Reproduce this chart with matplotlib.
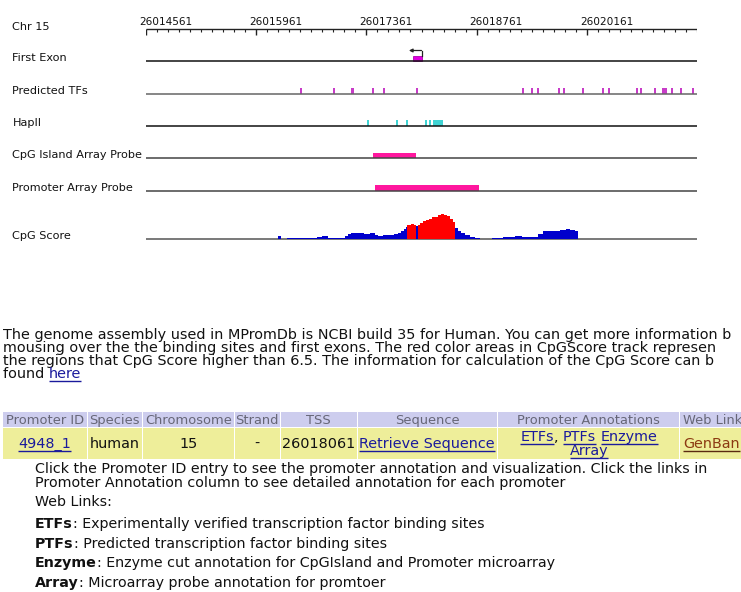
import matplotlib
matplotlib.use("Agg")
import matplotlib.pyplot as plt
from matplotlib.patches import Rectangle
from matplotlib.transforms import offset_copy
import numpy as np

plt.rcParams["font.family"] = ["DejaVu Sans"]

# ---------------- data ----------------
START, END = 26014561, 26021561
MAJOR_TICKS = [26014561, 26015961, 26017361, 26018761, 26020161]
MINOR_STEP = 140

track_labels = ["Chr 15", "First Exon", "Predicted TFs", "HapII",
                "CpG Island Array Probe", "Promoter Array Probe", "CpG Score"]

exon_start, exon_end = 26017950, 26018061
tss = 26018061

tf_start = [26016517, 26016937, 26017165, 26017432, 26017572, 26017991,
            26019338, 26019452, 26019528, 26019795, 26019859, 26020100,
            26020354, 26020430, 26020786, 26020837, 26021015, 26021116,
            26021231, 26021345, 26021497]
tf_end = [26016537, 26016957, 26017203, 26017452, 26017592, 26018011,
          26019358, 26019472, 26019548, 26019815, 26019879, 26020120,
          26020374, 26020450, 26020806, 26020857, 26021035, 26021180,
          26021251, 26021365, 26021517]

hap_pos = [26017369, 26017737, 26017864, 26018105, 26018156, 26018207,
           26018232, 26018258, 26018283, 26018309]

cpg_island_probe = (26017445, 26017991)
promoter_probe = (26017470, 26018791)

cpg_pos = [26016238, 26016276, 26016352, 26016517, 26016644, 26016733, 26016797,
           26016873, 26017000, 26017089, 26017127, 26017165, 26017216, 26017280,
           26017330, 26017407, 26017470, 26017508, 26017572, 26017661, 26017712,
           26017762, 26017801, 26017839, 26017864, 26017877, 26017928, 26017966,
           26017991, 26018016, 26018042, 26018080, 26018118, 26018156, 26018194,
           26018232, 26018271, 26018309, 26018347, 26018385, 26018423, 26018461,
           26018487, 26018525, 26018563, 26018614, 26018678, 26018741, 26018804,
           26018957, 26019096, 26019249, 26019338, 26019401, 26019465, 26019541,
           26019604, 26019693, 26019757, 26019820, 26019897, 26019947, 26020011,
           26020049]
cpg_score = [1.6, 0, 0.5, 0.4, 0.5, 1.0, 1.3, 0.5, 0.7, 1.5, 2.5, 3.0, 2.8, 3.0,
             2.5, 2.8, 2.2, 1.5, 1.8, 2.0, 2.5, 3.2, 4.0, 5.0, 6.0, 7.0, 7.6, 7.2,
             6.3, 7.0, 7.8, 8.8, 9.6, 10.2, 10.8, 11.2, 11.8, 12.5, 12.2, 11.5, 10.0,
             8.5, 5.5, 4.0, 3.0, 2.0, 1.0, 0.5, 0, 0.5, 1.0, 1.3, 1.0, 0.8, 1.0, 2.5,
             3.8, 4.2, 3.8, 4.5, 4.8, 4.3, 3.8, 0]
CPG_THRESHOLD = 6.5

paragraph = [
    "The genome assembly used in MPromDb is NCBI build 35 for Human. You can get more information b",
    "mousing over the the binding sites and first exons. The red color areas in CpGScore track represen",
    "the regions that CpG Score higher than 6.5. The information for calculation of the CpG Score can b",
]
para_last, para_link = "found ", "here"

table_headers = ["Promoter ID", "Species", "Chromosome", "Strand", "TSS",
                 "Sequence", "Promoter Annotations", "Web Link"]
table_row = ["4948_1", "human", "15", "-", "26018061", "Retrieve Sequence",
             "", "GenBan"]
annotation_links = ["ETFs", "PTFs", "Enzyme", "Array"]

notes = ["Click the Promoter ID entry to see the promoter annotation and visualization. Click the links in",
         "Promoter Annotation column to see detailed annotation for each promoter",
         "Web Links:"]
definitions = [("ETFs", ": Experimentally verified transcription factor binding sites"),
               ("PTFs", ": Predicted transcription factor binding sites"),
               ("Enzyme", ": Enzyme cut annotation for CpGIsland and Promoter microarray"),
               ("Array", ": Microarray probe annotation for promtoer")]

# ---------------- layout / style ----------------
W, H = 741, 592
TX0, TX1 = 146, 697          # track x extent in pixels
AXIS_Y = 29
track_y = [AXIS_Y, 61, 94, 126, 158, 191, 239]
LINK = "#1a1a9c"
TXT = "#111111"

fig = plt.figure(figsize=(W / 100, H / 100), dpi=100)
fig.patch.set_facecolor("white")

pg = fig.add_axes([0, 0, 1, 1])
pg.set_xlim(0, W)
pg.set_ylim(H, 0)
pg.axis("off")

tr = fig.add_axes([TX0 / W, 1 - 260 / H, (TX1 - TX0) / W, 260 / H])
tr.set_xlim(START, END)
tr.set_ylim(260, 0)
tr.axis("off")

# coordinate axis
tr.hlines(AXIS_Y, START, END, color="#222222", lw=1.0)
for p in np.arange(START, END + 1, MINOR_STEP):
    is_major = p in MAJOR_TICKS
    tr.vlines(p, AXIS_Y, AXIS_Y + (6 if is_major else 3), color="#222222",
              lw=1.0 if is_major else 0.8)
lab_tr = offset_copy(tr.transData, fig=fig, x=-7, y=0, units="dots")
for p in MAJOR_TICKS:
    tr.text(p, 25, str(p), transform=lab_tr, ha="left", va="baseline",
            fontsize=7.6, color=TXT)

# track labels
for lab, y in zip(track_labels, track_y):
    pg.text(12.5, y + (1 if lab == "Chr 15" else 0), lab, ha="left",
            va="baseline", fontsize=8.1, color=TXT)

# track base lines
line_cols = ["#111111", "#666666", "#111111", "#444444", "#444444", "#555555"]
for y, c in zip(track_y[1:], line_cols):
    tr.hlines(y, START, END, color=c, lw=1.1)

# first exon + TSS arrow
tr.add_patch(Rectangle((exon_start, 55.5), exon_end - exon_start, 5.5,
                       facecolor="#e000e0", edgecolor="#b000b0", lw=0.6))
tr.plot([tss, tss], [55.5, 50.5], color="#222222", lw=0.9)
tr.annotate("", xy=(tss - 160, 50.5), xytext=(tss, 50.5),
            arrowprops=dict(arrowstyle="-|>", color="#222222", lw=0.9,
                            mutation_scale=5, shrinkA=0, shrinkB=0))

# predicted TFs
tr.bar(tf_start, -6, width=np.array(tf_end) - np.array(tf_start), bottom=94,
       align="edge", color="#c83cc8", linewidth=0)
# HapII
tr.bar(hap_pos, -6, width=22, bottom=126, align="edge", color="#3fd3d3",
       linewidth=0)
# probes
tr.add_patch(Rectangle((cpg_island_probe[0], 152.5),
                       cpg_island_probe[1] - cpg_island_probe[0], 5.5,
                       facecolor="#ff179e", edgecolor="none"))
tr.add_patch(Rectangle((promoter_probe[0], 185),
                       promoter_probe[1] - promoter_probe[0], 6,
                       facecolor="#ff179e", edgecolor="none"))

# CpG score
cg = fig.add_axes([TX0 / W, 1 - 239 / H, (TX1 - TX0) / W, 30 / H])
cg.set_xlim(START, END)
cg.set_ylim(0, 15)
cg.axis("off")
pos = np.array(cpg_pos)
sc = np.array(cpg_score)
cols = np.where(sc[:-1] > CPG_THRESHOLD, "#ff0000", "#0000cc")
cg.bar(pos[:-1], sc[:-1], width=np.diff(pos), align="edge", color=cols,
       linewidth=0, antialiased=False)

# ---------------- page text ----------------
fig.canvas.draw()
renderer = fig.canvas.get_renderer()


def width_of(t):
    bb = t.get_window_extent(renderer)
    return bb.x1 - bb.x0


def underline(t, y, color):
    bb = t.get_window_extent(renderer)
    pg.hlines(y, bb.x0, bb.x1, color=color, lw=1.0)


PFS = 10.4
ys = [339, 352, 365]
for line, y in zip(paragraph, ys):
    pg.text(3, y, line, ha="left", va="baseline", fontsize=PFS, color=TXT)
t = pg.text(3, 378, para_last, ha="left", va="baseline", fontsize=PFS, color=TXT)
x = 3 + width_of(t)
t = pg.text(x, 378, para_link, ha="left", va="baseline", fontsize=PFS, color=LINK)
underline(t, 380.5, LINK)

# table
col_edges = [3, 88, 143, 235, 281, 358, 498, 680, 760]
HDR_Y0, HDR_Y1, ROW_Y1 = 412, 427, 459
HFS = 9.4
for i in range(len(table_headers)):
    x0, x1 = col_edges[i], col_edges[i + 1]
    pg.add_patch(Rectangle((x0, HDR_Y0), x1 - x0 - 1.5, HDR_Y1 - HDR_Y0,
                           facecolor="#cdcdee", edgecolor="none"))
    pg.add_patch(Rectangle((x0, HDR_Y1 + 1), x1 - x0 - 1.5, ROW_Y1 - HDR_Y1 - 1,
                           facecolor="#eeee9a", edgecolor="none"))
    cx = (x0 + x1) / 2
    if i == len(table_headers) - 1:
        pg.text(x0 + 3, 424, table_headers[i], ha="left", va="baseline",
                fontsize=HFS, color="#666677")
    else:
        pg.text(cx - 0.75, 424, table_headers[i], ha="center", va="baseline",
                fontsize=HFS, color="#666677")

TFS = 10.4
row_y = 448
for i, val in enumerate(table_row):
    x0, x1 = col_edges[i], col_edges[i + 1]
    cx = (x0 + x1) / 2
    if i == 6:
        continue
    if i == len(table_row) - 1:
        t = pg.text(x0 + 3, row_y, val, ha="left", va="baseline", fontsize=TFS,
                    color="#8b3a12")
        underline(t, row_y + 2.5, "#5a2a10")
        continue
    is_link = i in (0, 5)
    t = pg.text(cx - 0.75, row_y, val, ha="center", va="baseline", fontsize=TFS,
                color=LINK if is_link else TXT)
    if is_link:
        underline(t, row_y + 2.5, LINK)

# annotation cell: "ETFs, PTFs Enzyme" / "Array"
cx = (col_edges[6] + col_edges[7]) / 2
runs = [(annotation_links[0], True), (", ", False), (annotation_links[1], True),
        (" ", False), (annotation_links[2], True)]
tmp = [pg.text(0, 0, s, fontsize=TFS) for s, _ in runs]
ws = [width_of(tt) for tt in tmp]
for tt in tmp:
    tt.remove()
x = cx - sum(ws) / 2
for (s, lk), w in zip(runs, ws):
    if s.strip():
        t = pg.text(x, 441, s, ha="left", va="baseline", fontsize=TFS,
                    color=LINK if lk else TXT)
        if lk:
            underline(t, 443.5, LINK)
    x += w
t = pg.text(cx, 455, annotation_links[3], ha="center", va="baseline",
            fontsize=TFS, color=LINK)
underline(t, 457.5, LINK)

# notes
NFS = 10.3
for line, y in zip(notes, [473, 487, 506]):
    pg.text(35, y, line, ha="left", va="baseline", fontsize=NFS, color=TXT)
for (b, rest), y in zip(definitions, [528, 548, 567, 587]):
    t = pg.text(35, y, b, ha="left", va="baseline", fontsize=NFS,
                fontweight="bold", color=TXT)
    pg.text(35 + width_of(t), y, rest, ha="left", va="baseline", fontsize=NFS,
            color=TXT)

fig.savefig("out.png", dpi=100)
